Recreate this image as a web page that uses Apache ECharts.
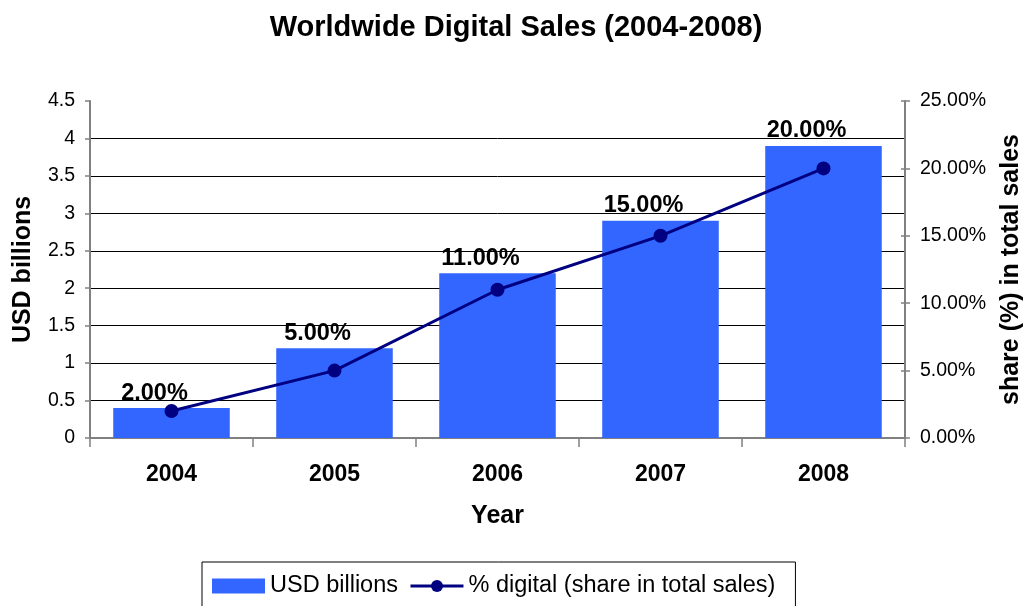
<!DOCTYPE html>
<html>
<head>
<meta charset="utf-8">
<script src="https://cdn.jsdelivr.net/npm/echarts@6/dist/echarts.min.js"></script>
<style>
  html, body { margin: 0; padding: 0; background: #fff; }
  #chart { width: 1032px; height: 606px; }
</style>
</head>
<body>
<div id="chart"></div>
<script>
// Worldwide digital sales, 2004-2008
const years = ['2004', '2005', '2006', '2007', '2008'];
const salesUsdBillions = [0.4, 1.2, 2.2, 2.9, 3.9];
const digitalSharePct = [2, 5, 11, 15, 20];
const shareLabels = ['2.00%', '5.00%', '11.00%', '15.00%', '20.00%'];

const FONT = '"Liberation Sans", Arial, sans-serif';
const AXIS_GRAY = '#808080';
const AXIS_NAME_STYLE = { fontFamily: FONT, fontSize: 25, fontWeight: 'bold', color: '#000' };

const chart = echarts.init(document.getElementById('chart'), null, { renderer: 'canvas' });

chart.setOption({
  animation: false,
  backgroundColor: '#ffffff',
  textStyle: { fontFamily: FONT, color: '#000' },
  title: {
    text: 'Worldwide Digital Sales (2004-2008)',
    left: 'center',
    top: 8,
    textStyle: { fontFamily: FONT, fontSize: 29, fontWeight: 'bold', color: '#000' }
  },
  grid: { left: 90, right: 124, top: 101, bottom: 168, containLabel: false },
  legend: {
    left: 202,
    top: 562,
    padding: [12, 20, 40, 10],
    itemGap: 11,
    itemWidth: 53,
    itemHeight: 15,
    borderColor: '#000',
    borderWidth: 1,
    backgroundColor: '#fff',
    lineStyle: { width: 3 },
    textStyle: { fontFamily: FONT, fontSize: 23.5, color: '#000' },
    data: [
      { name: 'USD billions', icon: 'rect' },
      { name: '% digital (share in total sales)', lineStyle: { width: 3, color: '#000080' } }
    ]
  },
  xAxis: {
    type: 'category',
    data: years,
    boundaryGap: true,
    name: 'Year',
    nameLocation: 'middle',
    nameGap: 66,
    nameTextStyle: AXIS_NAME_STYLE,
    axisLine: { lineStyle: { color: AXIS_GRAY, width: 2 } },
    axisTick: { show: true, length: 9, lineStyle: { color: AXIS_GRAY, width: 1.5 } },
    axisLabel: { margin: 25, fontFamily: FONT, fontSize: 23, fontWeight: 'bold', color: '#000' },
    splitLine: { show: false }
  },
  yAxis: [
    {
      type: 'value',
      position: 'left',
      min: 0,
      max: 4.5,
      interval: 0.5,
      name: 'USD billions',
      nameLocation: 'middle',
      nameGap: 54,
      nameTextStyle: AXIS_NAME_STYLE,
      axisLine: { show: true, lineStyle: { color: AXIS_GRAY, width: 2 } },
      axisTick: { show: true, length: 5, lineStyle: { color: AXIS_GRAY, width: 1.5 } },
      axisLabel: { margin: 15, fontFamily: FONT, fontSize: 19.5, color: '#000' },
      splitLine: { show: true, showMinLine: false, showMaxLine: false, lineStyle: { color: '#000', width: 1 } }
    },
    {
      type: 'value',
      position: 'right',
      min: 0,
      max: 25,
      interval: 5,
      name: 'share (%) in total sales',
      nameLocation: 'middle',
      nameGap: 94,
      nameTextStyle: AXIS_NAME_STYLE,
      axisLine: { show: true, lineStyle: { color: AXIS_GRAY, width: 2 } },
      axisTick: { show: true, length: 5, lineStyle: { color: AXIS_GRAY, width: 1.5 } },
      axisLabel: {
        margin: 15,
        fontFamily: FONT,
        fontSize: 19.5,
        color: '#000',
        formatter: v => v.toFixed(2) + '%'
      },
      splitLine: { show: false }
    },
    {
      // inner half of the crossing tick marks on the right axis
      type: 'value',
      position: 'right',
      min: 0,
      max: 25,
      interval: 5,
      axisLine: { show: false },
      axisTick: { show: true, inside: true, length: 4, lineStyle: { color: AXIS_GRAY, width: 1.5 } },
      axisLabel: { show: false },
      splitLine: { show: false }
    }
  ],
  series: [
    {
      name: 'USD billions',
      type: 'bar',
      yAxisIndex: 0,
      data: salesUsdBillions,
      barWidth: '71.5%',
      itemStyle: { color: '#3366FF' },
      label: {
        show: true,
        position: 'top',
        distance: 3,
        offset: [-17, 0],
        fontFamily: FONT,
        fontSize: 23.5,
        fontWeight: 'bold',
        color: '#000',
        formatter: p => shareLabels[p.dataIndex]
      },
      z: 2
    },
    {
      name: '% digital (share in total sales)',
      type: 'line',
      yAxisIndex: 1,
      data: digitalSharePct,
      symbol: 'circle',
      symbolSize: 14,
      lineStyle: { color: '#000080', width: 3 },
      itemStyle: { color: '#000080' },
      z: 3
    }
  ]
});
</script>
</body>
</html>
